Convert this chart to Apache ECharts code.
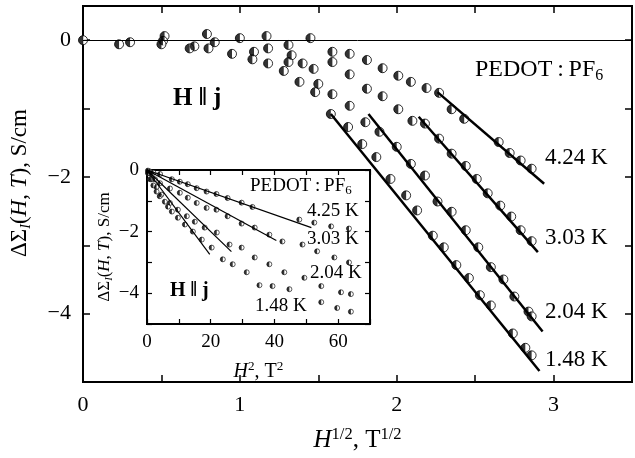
<!DOCTYPE html>
<html>
<head>
<meta charset="utf-8">
<script src="https://cdn.jsdelivr.net/npm/echarts@6/dist/echarts.min.js"></script>
<style>
  html, body { margin: 0; padding: 0; background: #fff; }
  #chart { width: 635px; height: 458px; }
</style>
</head>
<body>
<div id="chart"></div>
<script>
// main panel: dSigma vs H^1/2
const main424 = [[0,0],[0.30,-0.03],[0.52,0.06],[0.79,0.09],[1.00,0.03],[1.17,0.06],[1.31,-0.07],[1.45,0.03],[1.59,-0.17],[1.70,-0.20],[1.81,-0.29],[1.91,-0.41],[2.01,-0.52],[2.09,-0.61],[2.19,-0.70],[2.27,-0.77],[2.35,-1.01],[2.43,-1.15],[2.65,-1.49],[2.72,-1.65],[2.79,-1.76],[2.86,-1.88]]
const main303 = [[0.23,-0.06],[0.51,-0.01],[0.84,-0.03],[1.18,-0.12],[1.33,-0.22],[1.47,-0.42],[1.59,-0.32],[1.70,-0.50],[1.81,-0.71],[1.91,-0.82],[2.01,-1.01],[2.10,-1.18],[2.18,-1.22],[2.27,-1.44],[2.35,-1.66],[2.44,-1.84],[2.51,-2.03],[2.58,-2.24],[2.66,-2.42],[2.73,-2.58],[2.79,-2.78],[2.86,-2.94]]
const main204 = [[0.71,-0.09],[1.09,-0.17],[1.31,-0.32],[1.40,-0.34],[1.50,-0.64],[1.59,-0.79],[1.70,-0.96],[1.80,-1.20],[1.89,-1.34],[2.00,-1.56],[2.09,-1.81],[2.18,-1.98],[2.26,-2.36],[2.35,-2.51],[2.44,-2.78],[2.52,-3.03],[2.60,-3.32],[2.68,-3.50],[2.75,-3.75],[2.84,-3.97],[2.86,-4.04]]
const main148 = [[0.50,-0.06],[0.68,-0.12],[0.80,-0.12],[0.95,-0.20],[1.08,-0.28],[1.18,-0.34],[1.28,-0.45],[1.38,-0.61],[1.48,-0.76],[1.58,-1.08],[1.69,-1.27],[1.78,-1.52],[1.87,-1.71],[1.96,-2.03],[2.06,-2.27],[2.13,-2.49],[2.23,-2.86],[2.30,-3.03],[2.38,-3.29],[2.46,-3.48],[2.53,-3.73],[2.60,-3.88],[2.74,-4.29],[2.82,-4.50],[2.86,-4.61]]
const fit424 = [[2.26,-0.76],[2.94,-2.10]]
const fit303 = [[2.14,-1.12],[2.90,-3.10]]
const fit204 = [[1.82,-1.08],[2.93,-4.26]]
const fit148 = [[1.58,-1.08],[2.91,-4.84]]

// inset: dSigma vs H^2
const in425 = [[0.3,-0.02],[1,-0.05],[2,-0.08],[4.1,-0.13],[7.8,-0.30],[10.3,-0.38],[12.8,-0.46],[15.6,-0.59],[18.7,-0.70],[21.8,-0.78],[25.3,-0.91],[29.7,-1.06],[33.1,-1.20],[47.8,-1.61],[52.5,-1.71],[57.8,-1.83],[63.4,-1.90]]
const in303 = [[0.5,-0.05],[1.5,-0.15],[2.5,-0.30],[4.1,-0.43],[7.2,-0.60],[10.3,-0.74],[12.8,-0.90],[15.6,-1.07],[18.7,-1.23],[21.8,-1.29],[25.3,-1.50],[29.7,-1.74],[33.8,-1.87],[38.4,-2.10],[42.5,-2.32],[48.8,-2.42],[53.4,-2.64],[58.8,-2.84],[63.4,-3.00]]
const in204 = [[0.5,-0.10],[1.5,-0.30],[3,-0.55],[4.5,-0.80],[7.2,-1.07],[9.7,-1.29],[12.5,-1.50],[15,-1.68],[18.1,-1.87],[21.9,-2.03],[25.9,-2.42],[29.7,-2.52],[33.8,-2.84],[38.4,-3.06],[43.1,-3.32],[49.4,-3.50],[54.7,-3.77],[60.9,-3.97],[64,-4.03]]
const in148 = [[0.3,-0.10],[1,-0.30],[2,-0.50],[3,-0.70],[4,-0.85],[5.6,-1.03],[6.6,-1.19],[7.8,-1.35],[9.7,-1.55],[11.9,-1.77],[14.4,-2.00],[17.2,-2.26],[20.3,-2.52],[23.8,-2.90],[26.9,-3.06],[31.3,-3.32],[35.3,-3.74],[39.4,-3.77],[44.7,-3.87],[54.7,-4.29],[59.7,-4.48],[64,-4.60]]
const inFit425 = [[0,0],[51.6,-1.87]]
const inFit303 = [[0,0],[40.6,-2.29]]
const inFit204 = [[0,0],[26.5,-2.65]]
const inFit148 = [[0,0],[19.7,-2.74]]

const FONT = 'Liberation Serif'
const MAIN = 0, INSET = 2 // axis indices (1 and 3 are the mirror axes)
const minus = v => String(v).replace('-', '\u2212')

// half-filled circle marker = white circle + black left half
const dots = (data, axis, size) => [
  { type: 'scatter', xAxisIndex: axis, yAxisIndex: axis, data, symbol: 'circle', symbolSize: size,
    itemStyle: { color: '#fff', borderColor: '#000', borderWidth: size > 6 ? 1 : 0.8 }, z: 3 },
  { type: 'scatter', xAxisIndex: axis, yAxisIndex: axis, data,
    symbol: 'path://M10,0 A10,10 0 0,0 10,20 Z', symbolSize: [size / 2, size], symbolOffset: [-size / 4, 0],
    itemStyle: { color: '#000' }, z: 4 }
]
const fit = (data, axis, width) => ({
  type: 'line', xAxisIndex: axis, yAxisIndex: axis, data, symbol: 'none',
  lineStyle: { color: '#000', width }, z: 5
})

const tickStyle = (len, w) => ({ inside: true, length: len, lineStyle: { color: '#000', width: w } })
const lineStyle = w => ({ onZero: false, lineStyle: { color: '#000', width: w } })
const richName = (size, padding) => ({
  fontFamily: FONT, fontSize: size, color: '#000', padding,
  rich: {
    n: { fontFamily: FONT, fontSize: size, color: '#000', lineHeight: size + 4 },
    i: { fontFamily: FONT, fontSize: size, fontStyle: 'italic', color: '#000', lineHeight: size + 4 },
    sup: { fontFamily: FONT, fontSize: size * 0.66, color: '#000', verticalAlign: 'top', lineHeight: size + 4 },
    sub: { fontFamily: FONT, fontSize: size * 0.62, fontStyle: 'italic', color: '#000', verticalAlign: 'bottom', lineHeight: size * 0.8 }
  }
})

const chart = echarts.init(document.getElementById('chart'))
chart.setOption({
  animation: false,
  backgroundColor: '#fff',
  grid: [
    { left: 79, right: 0, top: 6, bottom: 74, show: true, borderColor: '#000', borderWidth: 2, backgroundColor: 'transparent' },
    { left: 147, right: 265, top: 170, bottom: 134, show: true, borderColor: '#000', borderWidth: 2, backgroundColor: '#fff' }
  ],
  xAxis: [
    { gridIndex: 0, type: 'value', min: 0, max: 3.5, interval: 0.5, position: 'bottom',
      axisLine: lineStyle(2), axisTick: tickStyle(7, 1.5), splitLine: { show: false },
      axisLabel: { formatter: v => (v % 1 === 0 ? String(v) : ''), fontFamily: FONT, fontSize: 22, color: '#000', margin: 12 },
      name: '{i|H}{sup|1/2}{n|, T}{sup|1/2}', nameLocation: 'middle', nameGap: 44, nameTextStyle: richName(25) },
    { gridIndex: 0, type: 'value', min: 0, max: 3.5, interval: 0.5, position: 'top',
      axisLine: lineStyle(2), axisTick: tickStyle(7, 1.5), splitLine: { show: false }, axisLabel: { show: false } },
    { gridIndex: 1, type: 'value', min: 0, max: 70, interval: 10, position: 'bottom',
      axisLine: lineStyle(2), axisTick: tickStyle(5, 1.2), splitLine: { show: false },
      axisLabel: { formatter: v => (v % 20 === 0 ? String(v) : ''), fontFamily: FONT, fontSize: 19, color: '#000', margin: 9 },
      name: '{i|H}{sup|2}{n|, T}{sup|2}', nameLocation: 'middle', nameGap: 36, nameTextStyle: richName(20) },
    { gridIndex: 1, type: 'value', min: 0, max: 70, interval: 10, position: 'top',
      axisLine: lineStyle(2), axisTick: tickStyle(5, 1.2), splitLine: { show: false }, axisLabel: { show: false } }
  ],
  yAxis: [
    { gridIndex: 0, type: 'value', min: -5, max: 0.5, interval: 1, position: 'left',
      axisLine: lineStyle(2), axisTick: tickStyle(7, 1.5), splitLine: { show: false },
      axisLabel: { formatter: v => (v % 2 === 0 ? minus(v) : ''), fontFamily: FONT, fontSize: 22, color: '#000', margin: 12 },
      name: '{n|\u0394\u03a3}{sub|I}{n|(}{i|H}{n|, }{i|T}{n|), S/cm}', nameLocation: 'middle', nameGap: 50, nameTextStyle: richName(23, [0, 0, 0, 22]) },
    { gridIndex: 0, type: 'value', min: -5, max: 0.5, interval: 1, position: 'right',
      axisLine: lineStyle(2), axisTick: tickStyle(7, 1.5), splitLine: { show: false }, axisLabel: { show: false } },
    { gridIndex: 1, type: 'value', min: -5, max: 0, interval: 1, position: 'left',
      axisLine: lineStyle(2), axisTick: tickStyle(5, 1.2), splitLine: { show: false },
      axisLabel: { formatter: v => (v % 2 === 0 ? minus(v) : ''), fontFamily: FONT, fontSize: 19, color: '#000', margin: 8 },
      name: '{n|\u0394\u03a3}{sub|I}{n|(}{i|H}{n|, }{i|T}{n|), S/cm}', nameLocation: 'middle', nameGap: 22, nameTextStyle: richName(17) },
    { gridIndex: 1, type: 'value', min: -5, max: 0, interval: 1, position: 'right',
      axisLine: lineStyle(2), axisTick: tickStyle(5, 1.2), splitLine: { show: false }, axisLabel: { show: false } }
  ],
  graphic: [
    { type: 'text', left: 475, top: 58, z: 10, style: { text: '{n|PEDOT\u2009:\u2009PF}{s|6}', rich: {
      n: { fontFamily: FONT, fontSize: 24, fill: '#000', lineHeight: 28 },
      s: { fontFamily: FONT, fontSize: 16, fill: '#000', verticalAlign: 'bottom', lineHeight: 18 } } } },
    { type: 'text', left: 173, top: 86, z: 10, style: { text: 'H \u2016 j', font: 'bold 25px "Liberation Serif"', fill: '#000' } },
    { type: 'text', left: 545, top: 146, z: 10, style: { text: '4.24 K', font: '23px "Liberation Serif"', fill: '#000' } },
    { type: 'text', left: 545, top: 226, z: 10, style: { text: '3.03 K', font: '23px "Liberation Serif"', fill: '#000' } },
    { type: 'text', left: 545, top: 300, z: 10, style: { text: '2.04 K', font: '23px "Liberation Serif"', fill: '#000' } },
    { type: 'text', left: 545, top: 348, z: 10, style: { text: '1.48 K', font: '23px "Liberation Serif"', fill: '#000' } },
    { type: 'text', left: 250, top: 177, z: 10, style: { text: '{n|PEDOT\u2009:\u2009PF}{s|6}', rich: {
      n: { fontFamily: FONT, fontSize: 19, fill: '#000', lineHeight: 22 },
      s: { fontFamily: FONT, fontSize: 13, fill: '#000', verticalAlign: 'bottom', lineHeight: 14 } } } },
    { type: 'text', left: 307, top: 202, z: 10, style: { text: '4.25 K', font: '19px "Liberation Serif"', fill: '#000' } },
    { type: 'text', left: 307, top: 230, z: 10, style: { text: '3.03 K', font: '19px "Liberation Serif"', fill: '#000' } },
    { type: 'text', left: 310, top: 264, z: 10, style: { text: '2.04 K', font: '19px "Liberation Serif"', fill: '#000' } },
    { type: 'text', left: 255, top: 297, z: 10, style: { text: '1.48 K', font: '19px "Liberation Serif"', fill: '#000' } },
    { type: 'text', left: 170, top: 281, z: 10, style: { text: 'H \u2016 j', font: 'bold 20px "Liberation Serif"', fill: '#000' } }
  ],
  series: [
    Object.assign(fit(fit424, MAIN, 2.5), {
      markLine: { silent: true, symbol: 'none', label: { show: false }, lineStyle: { color: '#000', width: 1, type: 'solid' }, data: [{ yAxis: 0 }] }
    }),
    fit(fit303, MAIN, 2.5), fit(fit204, MAIN, 2.5), fit(fit148, MAIN, 2.5),
    ...dots(main424, MAIN, 9), ...dots(main303, MAIN, 9), ...dots(main204, MAIN, 9), ...dots(main148, MAIN, 9),
    fit(inFit425, INSET, 1.2), fit(inFit303, INSET, 1.2), fit(inFit204, INSET, 1.2), fit(inFit148, INSET, 1.2),
    ...dots(in425, INSET, 5), ...dots(in303, INSET, 5), ...dots(in204, INSET, 5), ...dots(in148, INSET, 5)
  ]
})
</script>
</body>
</html>
